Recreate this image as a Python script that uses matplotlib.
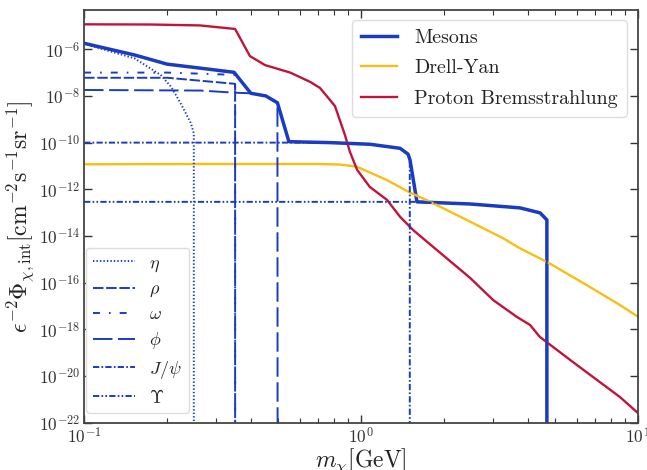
import numpy as np
import matplotlib
matplotlib.use("Agg")
import matplotlib.pyplot as plt
from matplotlib.ticker import FixedLocator, NullLocator, LogLocator, LogFormatterSciNotation

plt.rcParams['mathtext.fontset'] = 'cm'
plt.rcParams['font.family'] = ['cmr10', 'DejaVu Serif']
plt.rcParams['axes.formatter.use_mathtext'] = True
plt.rcParams['axes.unicode_minus'] = False
plt.rcParams['lines.scale_dashes'] = False

# ---- data ----
brems_m = [0.1, 0.173, 0.262, 0.351, 0.397, 0.450, 0.555, 0.655, 0.711, 0.805, 0.875,
           0.912, 0.968, 1.076, 1.242, 1.384, 1.542, 1.879, 2.477, 3.0, 3.656, 4.074,
           4.426, 5.821, 7.112, 8.61, 10.0]
brems_phi = [1.17e-5, 1.15e-5, 1.05e-5, 7.4e-6, 5.1e-7, 2.1e-7, 1.0e-7, 4.0e-8, 2.2e-8,
             3.7e-9, 2.1e-10, 4.0e-11, 6.8e-12, 1.26e-12, 3.5e-13, 6.6e-14, 1.8e-14,
             2.5e-15, 1.6e-16, 1.8e-17, 3.4e-18, 1.55e-18, 4.7e-19, 4.0e-20, 6.8e-21,
             1.26e-21, 2.6e-22]

dy_m = [0.1, 0.3, 0.711, 0.84, 0.965, 1.239, 1.503, 1.774, 2.339, 3.266, 3.75, 4.677,
        6.53, 8.61, 10.0]
dy_phi = [1.18e-11, 1.21e-11, 1.21e-11, 1.15e-11, 9.3e-12, 2.5e-12, 7.2e-13, 2.95e-13,
          5.75e-14, 7.9e-15, 2.95e-15, 7.9e-16, 7.9e-17, 1.1e-17, 3.5e-18]

mesons_m = [0.1, 0.152, 0.1995, 0.264, 0.348, 0.400, 0.453, 0.499, 0.549, 0.773, 1.078,
            1.384, 1.479, 1.503, 1.592, 2.477, 3.75, 4.43, 4.69, 4.69]
mesons_phi = [1.8e-6, 5.7e-7, 2.3e-7, 1.54e-7, 1.03e-7, 1.3e-8, 1.0e-8, 5.1e-9, 1.1e-10,
              1.0e-10, 8.5e-11, 5.7e-11, 3.2e-11, 1.8e-11, 2.9e-13, 2.35e-13, 1.6e-13,
              9.8e-14, 4.9e-14, 1e-30]

eta_m = [0.1, 0.152, 0.189, 0.206, 0.223, 0.243, 0.249, 0.249]
eta_phi = [1.7e-6, 4.1e-7, 7.9e-8, 2.5e-8, 4.9e-9, 6.8e-10, 2.5e-10, 1e-30]

rho_m = [0.1, 0.2, 0.351, 0.351]
rho_phi = [6.0e-8, 6.0e-8, 3.3e-8, 1e-30]

omega_m = [0.1, 0.2, 0.351, 0.351]
omega_phi = [1.0e-7, 1.0e-7, 8.0e-8, 1e-30]

phi_m = [0.1, 0.264, 0.348, 0.400, 0.453, 0.499, 0.50]
phi_phi = [1.8e-8, 1.7e-8, 1.38e-8, 1.3e-8, 1.0e-8, 5.1e-9, 1e-30]

jpsi_m = [0.1, 0.549, 0.773, 1.078, 1.384, 1.479, 1.50, 1.50]
jpsi_phi = [1.0e-10, 1.0e-10, 1.0e-10, 8.5e-11, 5.7e-11, 3.2e-11, 2.0e-11, 1e-30]

ups_m = [0.1, 1.592, 2.477, 3.75, 4.43, 4.69, 4.69]
ups_phi = [2.9e-13, 2.9e-13, 2.35e-13, 1.6e-13, 9.8e-14, 4.9e-14, 1e-30]

component_labels = [r'$\eta$', r'$\rho$', r'$\omega$', r'$\phi$', r'$J/\psi$', r'$\Upsilon$']
main_labels = ['Mesons', 'Drell-Yan', 'Proton Bremsstrahlung']

# ---- style ----
c_mes = '#1a3cc2'
c_dy = '#fbbd12'
c_br = '#c0143c'
lw_c = 1.4

fig = plt.figure(figsize=(6.47, 4.70), dpi=100)
ax = fig.add_axes([0.130, 0.1006, 0.856, 0.8781])

h_mes, = ax.plot(mesons_m, mesons_phi, color=c_mes, lw=2.5, label=main_labels[0])
h_dy, = ax.plot(dy_m, dy_phi, color=c_dy, lw=1.7, label=main_labels[1])
h_br, = ax.plot(brems_m, brems_phi, color=c_br, lw=1.7, label=main_labels[2])

h_eta, = ax.plot(eta_m, eta_phi, color=c_mes, lw=lw_c, dashes=(1.0, 1.5), label=component_labels[0])
h_rho, = ax.plot(rho_m, rho_phi, color=c_mes, lw=lw_c, dashes=(7.5, 2.0), label=component_labels[1])
h_om, = ax.plot(omega_m, omega_phi, color=c_mes, lw=lw_c, dashes=(5.0, 6.5, 1.2, 6.5), label=component_labels[2])
h_phi, = ax.plot(phi_m, phi_phi, color=c_mes, lw=lw_c, dashes=(14.0, 4.0), label=component_labels[3])
h_jp, = ax.plot(jpsi_m, jpsi_phi, color=c_mes, lw=lw_c, dashes=(4.5, 1.6, 1.2, 1.6), label=component_labels[4])
h_up, = ax.plot(ups_m, ups_phi, color=c_mes, lw=lw_c, dashes=(4.5, 1.6, 1.2, 1.6, 1.2, 1.6), label=component_labels[5])

ax.set_xscale('log')
ax.set_yscale('log')
ax.set_xlim(0.1, 10)
ax.set_ylim(1e-22, 4.8e-5)

ax.yaxis.set_major_locator(FixedLocator(10.0 ** np.arange(-22, -4, 2)))
ax.yaxis.set_minor_locator(NullLocator())
ax.yaxis.set_major_formatter(LogFormatterSciNotation())
ax.xaxis.set_major_locator(LogLocator(base=10))
ax.xaxis.set_minor_locator(LogLocator(base=10, subs=np.arange(2, 10)))

for s in ax.spines.values():
    s.set_color('#444444')
    s.set_linewidth(1.3)
ax.tick_params(which='both', direction='in', top=True, right=True, colors='#333333',
               labelsize=12.5)
ax.tick_params(axis='x', which='both', pad=2.5)
ax.tick_params(axis='y', which='both', pad=3)
ax.tick_params(which='major', length=6, width=1.0)
ax.tick_params(which='minor', length=3.5, width=0.8)

ax.set_xlabel(r'$m_\chi[\mathrm{GeV}]$', fontsize=17, labelpad=0, color='#222222')
ax.set_ylabel(r'$\epsilon^{-2}\Phi_{\chi,\mathrm{int}}[\mathrm{cm}^{-2}\mathrm{s}^{-1}\mathrm{sr}^{-1}]$',
              fontsize=17, labelpad=2, color='#222222')

leg1 = ax.legend(handles=[h_mes, h_dy, h_br], loc='upper right', bbox_to_anchor=(0.980, 0.976),
                 fontsize=14.4, frameon=True, fancybox=True, framealpha=1.0, edgecolor='#dddddd',
                 handlelength=1.8, handletextpad=0.85, borderaxespad=0.0, labelspacing=0.62,
                 borderpad=0.45)
for t in leg1.get_texts():
    t.set_color('#222222')
ax.add_artist(leg1)
leg2 = ax.legend(handles=[h_eta, h_rho, h_om, h_phi, h_jp, h_up], loc='lower left',
                 bbox_to_anchor=(0.0036, 0.0235), fontsize=13,
                 frameon=True, fancybox=True, framealpha=1.0, edgecolor='#dddddd',
                 handlelength=2.33, handletextpad=0.78, borderaxespad=0.0, labelspacing=0.42,
                 borderpad=0.4)
for t in leg2.get_texts():
    t.set_color('#222222')

fig.savefig('out.png', dpi=100)
